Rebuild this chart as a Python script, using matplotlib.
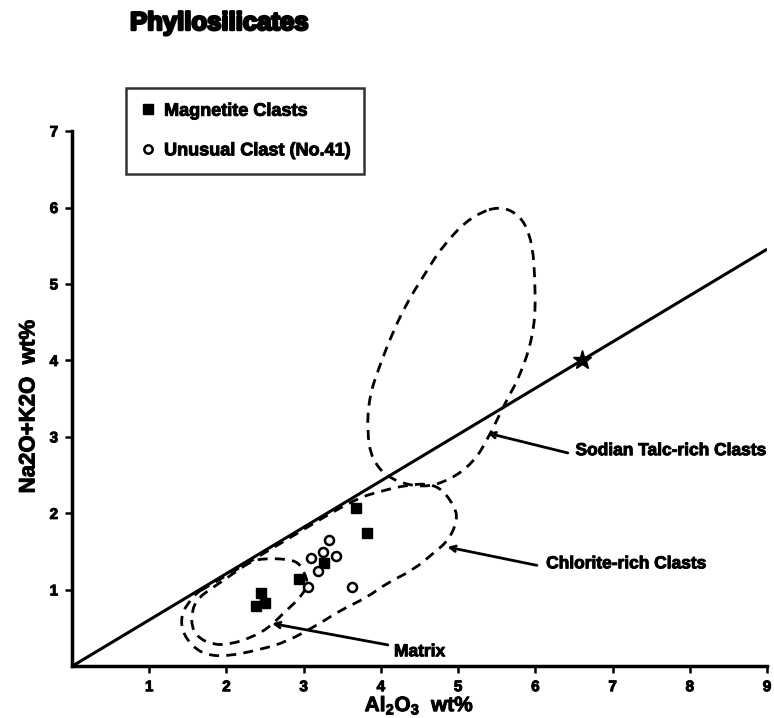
import matplotlib
matplotlib.use("Agg")
import matplotlib.pyplot as plt
from matplotlib.path import Path
from matplotlib.patches import PathPatch
from matplotlib.lines import Line2D
import matplotlib.patheffects as pe

plt.rcParams['font.family'] = ['Liberation Sans', 'DejaVu Sans']
plt.rcParams['font.weight'] = 'bold'

# Magnetite clasts (Al2O3, Na2O+K2O)
magnetite_al = [3.68, 3.82, 3.26, 2.94, 2.45, 2.38, 2.50]
magnetite_alk = [2.07, 1.74, 1.35, 1.14, 0.96, 0.79, 0.83]

# Unusual clast No.41
unusual_al = [3.33, 3.25, 3.09, 3.42, 3.18, 3.05, 3.62]
unusual_alk = [1.65, 1.50, 1.42, 1.44, 1.24, 1.04, 1.04]

# sodian talc end member and the tie line from the origin
star_al, star_alk = 6.6, 4.0
line_al = [0, 9]
line_alk = [0, 9 * star_alk / star_al]

# field outlines (closed, traced clockwise)
talc_field = [(5.62, 6.04), (5.95, 5.72), (6.01, 4.83), (5.97, 4.31), (5.80, 3.79),
              (5.63, 3.49), (5.38, 2.96), (5.19, 2.66), (4.90, 2.44), (4.55, 2.33),
              (4.12, 2.44), (3.88, 2.70), (3.82, 3.09), (3.85, 3.53), (3.98, 3.92),
              (4.15, 4.36), (4.34, 4.76), (4.55, 5.10), (4.80, 5.50), (5.18, 5.90)]
chlorite_field = [(1.72, 1.02), (2.69, 1.60), (3.64, 2.18), (4.03, 2.30), (4.34, 2.37),
                  (4.60, 2.39), (4.79, 2.32), (4.96, 2.08), (4.99, 1.91), (4.88, 1.65),
                  (4.68, 1.48), (4.42, 1.26), (4.08, 1.09), (3.82, 0.90), (3.47, 0.73),
                  (3.21, 0.56), (2.78, 0.32), (2.44, 0.22), (2.01, 0.13), (1.73, 0.15),
                  (1.55, 0.27), (1.42, 0.47), (1.42, 0.69), (1.51, 0.83), (1.61, 0.96)]
matrix_field = [(2.34, 1.39), (2.56, 1.41), (2.78, 1.40), (2.93, 1.36), (3.01, 1.23),
                (3.06, 1.06), (2.93, 0.87), (2.73, 0.69), (2.56, 0.51), (2.31, 0.37),
                (2.05, 0.29), (1.83, 0.28), (1.64, 0.37), (1.55, 0.51), (1.55, 0.73),
                (1.64, 0.90), (1.81, 1.02), (2.07, 1.20)]

tick_x = [1, 2, 3, 4, 5, 6, 7, 8, 9]
tick_y = [1, 2, 3, 4, 5, 6, 7]

heavy = [pe.withStroke(linewidth=0.7, foreground='black')]


def smooth_closed(pts):
    # quadratic spline through the midpoints, control points = outline points
    n = len(pts)
    mid = lambda a, b: ((a[0] + b[0]) / 2, (a[1] + b[1]) / 2)
    verts = [mid(pts[-1], pts[0])]
    codes = [Path.MOVETO]
    for i in range(n):
        verts += [pts[i], mid(pts[i], pts[(i + 1) % n])]
        codes += [Path.CURVE3, Path.CURVE3]
    return Path(verts, codes)


fig = plt.figure(figsize=(7.74, 7.18), dpi=100)
ax = fig.add_axes([0.093, 0.072, 0.898, 0.7455])

ax.plot(line_al, line_alk, color='black', lw=2.2, solid_capstyle='butt')
ax.plot([star_al], [star_alk], marker='*', ms=14, color='black', ls='none')

for field in (talc_field, chlorite_field, matrix_field):
    ax.add_patch(PathPatch(smooth_closed(field), fill=False, edgecolor='black',
                           lw=2.0, ls=(0, (3.6, 2.6))))

ax.plot(magnetite_al, magnetite_alk, 's', ms=7.5, color='black', ls='none')
ax.plot(unusual_al, unusual_alk, 'o', ms=6.5, mfc='white', mec='black', mew=1.8, ls='none')

arrow = dict(arrowstyle='->', lw=2, color='black', mutation_scale=10, shrinkA=0, shrinkB=0)
ax.annotate('', xy=(5.38, 3.05), xytext=(6.42, 2.79), arrowprops=arrow)
ax.annotate('', xy=(4.86, 1.56), xytext=(6.02, 1.32), arrowprops=arrow)
ax.annotate('', xy=(2.59, 0.56), xytext=(4.09, 0.28), arrowprops=arrow)
ax.text(6.52, 2.82, 'Sodian Talc-rich Clasts', fontsize=12.5, va='center', ha='left',
        path_effects=heavy)
ax.text(6.14, 1.34, 'Chlorite-rich Clasts', fontsize=12.5, va='center', ha='left',
        path_effects=heavy)
ax.text(4.17, 0.19, 'Matrix', fontsize=12.5, va='center', ha='left', path_effects=heavy)

ax.set_xlim(0, 9)
ax.set_ylim(0, 7)
ax.set_xticks(tick_x)
ax.set_yticks(tick_y)
ax.tick_params(direction='out', length=5, width=1.8, labelsize=11, pad=5)
for lab in ax.get_xticklabels() + ax.get_yticklabels():
    lab.set_fontweight('bold')
    lab.set_path_effects(heavy)
for side in ('top', 'right'):
    ax.spines[side].set_visible(False)
for side in ('left', 'bottom'):
    ax.spines[side].set_linewidth(2.5)

ax.set_xlabel(r'Al$\mathregular{_2}$O$\mathregular{_3}$  wt%', fontsize=15,
              fontweight='bold', path_effects=heavy)
ax.xaxis.set_label_coords(0.5, -0.073)
ax.xaxis.label.set_va('center')
ax.set_ylabel('Na2O+K2O  wt%', fontsize=16, fontweight='bold', path_effects=heavy)
ax.yaxis.set_label_coords(-0.062, 0.485)
ax.yaxis.label.set_va('center')

handles = [Line2D([], [], marker='s', ms=7, color='black', ls='none'),
           Line2D([], [], marker='o', ms=6, mfc='white', mec='black', mew=1.8, ls='none')]
leg = fig.legend(handles, ['Magnetite Clasts', 'Unusual Clast (No.41)'],
                 loc='upper left', bbox_to_anchor=(0.163, 0.877), fancybox=False,
                 edgecolor='black', prop={'size': 13, 'weight': 'bold'},
                 handlelength=0.8, handletextpad=0.5, labelspacing=1.25,
                 borderpad=0.8, borderaxespad=0)
leg.get_frame().set_linewidth(1.8)
for t in leg.get_texts():
    t.set_path_effects(heavy)

fig.text(0.168, 0.968, 'Phyllosilicates', fontsize=18.5, fontweight='bold', va='center',
         path_effects=[pe.withStroke(linewidth=1.8, foreground='black')])

fig.savefig('out.png', dpi=100)
